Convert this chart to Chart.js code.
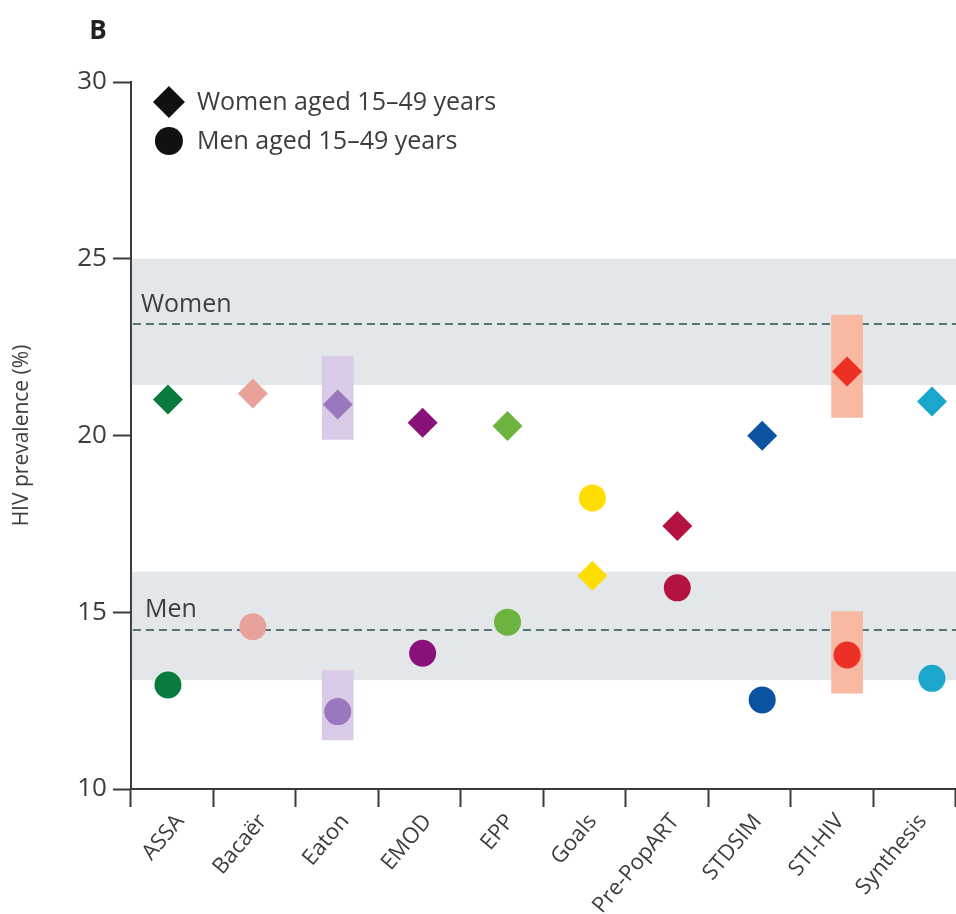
<!DOCTYPE html>
<html><head><meta charset="utf-8">
<script src="https://cdn.jsdelivr.net/npm/chart.js@4/dist/chart.umd.min.js"></script>
<style>html,body{margin:0;padding:0;background:#fff;overflow:hidden}canvas{display:block}</style>
</head><body>
<canvas id="c" width="956" height="914"></canvas>
<script>
// ---- data ----
const categories = ['ASSA', 'Bacaër', 'Eaton', 'EMOD', 'EPP', 'Goals', 'Pre-PopART', 'STDSIM', 'STI-HIV', 'Synthesis'];
const modelColors = ['#0b7a3e', '#e9a29b', '#9a78bd', '#8a1179', '#6db33f', '#ffdd00', '#b41240', '#0b53a2', '#ec3025', '#1ba6cb'];
const rangeColors = [null, null, '#d9cbe7', null, null, null, null, null, '#f8b8a1', null];
const womenValues = [21.02, 21.19, 20.88, 20.36, 20.27, 16.03, 17.44, 19.99, 21.81, 20.96];
const menValues   = [12.94, 14.59, 12.19, 13.84, 14.72, 18.23, 15.69, 12.52, 13.79, 13.13];
const womenLow  = [null, null, 19.89, null, null, null, null, null, 20.51, null];
const womenHigh = [null, null, 22.23, null, null, null, null, null, 23.41, null];
const menLow    = [null, null, 11.39, null, null, null, null, null, 12.71, null];
const menHigh   = [null, null, 13.35, null, null, null, null, null, 15.02, null];
const yTicks = [10, 15, 20, 25, 30];
const womenBand = [21.43, 25.0];
const womenObserved = 23.15;
const menBand = [13.08, 16.15];
const menObserved = 14.5;
const legendLabels = ['Women aged 15–49 years', 'Men aged 15–49 years'];

// ---- chart ----
const FONT = '"Open Sans", "DejaVu Sans", sans-serif';
Chart.defaults.font.family = FONT;
const AXIS = '#3a3a3a';
const TEXT = '#3d3d3d';

const pts = vals => vals.map((v, i) => ({x: i, y: v}));
const ranges = (lo, hi) => lo.map((l, i) => l == null ? null : ({x: i, y: [l, hi[i]]})).filter(d => d);
const rangeCols = lo => lo.map((l, i) => l == null ? null : rangeColors[i]).filter(c => c);

const decor = {
  id: 'decor',
  beforeDatasetsDraw(chart) {
    const {ctx, chartArea: a, scales: {y}} = chart;
    ctx.save();
    ctx.fillStyle = '#e4e7ea';
    for (const b of [womenBand, menBand]) {
      const t = y.getPixelForValue(b[1]), bt = y.getPixelForValue(b[0]);
      ctx.fillRect(a.left + 1, t, a.right - a.left - 1, bt - t);
    }
    ctx.setLineDash([8, 5]);
    ctx.lineWidth = 2;
    ctx.strokeStyle = '#587379';
    for (const v of [womenObserved, menObserved]) {
      const p = Math.round(y.getPixelForValue(v));
      ctx.beginPath(); ctx.moveTo(a.left + 2, p); ctx.lineTo(a.right, p); ctx.stroke();
    }
    ctx.setLineDash([]);
    ctx.fillStyle = TEXT;
    ctx.font = '25px ' + FONT;
    ctx.textAlign = 'left';
    ctx.textBaseline = 'alphabetic';
    ctx.fillText('Women', a.left + 10, y.getPixelForValue(womenObserved) - 12);
    ctx.fillText('Men', a.left + 14, y.getPixelForValue(menObserved) - 13);
    ctx.restore();
  },
  afterDraw(chart) {
    const {ctx, chartArea: a} = chart;
    ctx.save();
    // panel letter
    ctx.fillStyle = '#222';
    ctx.font = 'bold 26px ' + FONT;
    ctx.textAlign = 'center';
    ctx.textBaseline = 'middle';
    ctx.fillText('B', 98, 32);
    // legend
    const mx = a.left + 38;
    const y1 = a.top + 20, y2 = a.top + 59;
    ctx.fillStyle = '#111';
    ctx.beginPath();
    ctx.moveTo(mx - 16, y1); ctx.lineTo(mx, y1 - 16); ctx.lineTo(mx + 16, y1); ctx.lineTo(mx, y1 + 16); ctx.closePath();
    ctx.fill();
    ctx.beginPath(); ctx.arc(mx, y2, 14, 0, Math.PI * 2); ctx.fill();
    ctx.fillStyle = TEXT;
    ctx.font = '25px ' + FONT;
    ctx.textAlign = 'left';
    ctx.fillText(legendLabels[0], a.left + 66, y1 + 1);
    ctx.fillText(legendLabels[1], a.left + 66, y2 + 1);
    ctx.restore();
  }
};

new Chart(document.getElementById('c'), {
  data: {
    labels: categories,
    datasets: [
      {type: 'scatter', label: legendLabels[0], data: pts(womenValues), xAxisID: 'xm', yAxisID: 'y',
       pointStyle: 'rectRot', pointRadius: 15, pointHoverRadius: 15, borderWidth: 0,
       backgroundColor: modelColors, pointBackgroundColor: modelColors, order: 0},
      {type: 'scatter', label: legendLabels[1], data: pts(menValues), xAxisID: 'xm', yAxisID: 'y',
       pointStyle: 'circle', pointRadius: 13.5, pointHoverRadius: 13.5, borderWidth: 0,
       backgroundColor: modelColors, pointBackgroundColor: modelColors, order: 0},
      {type: 'bar', label: 'Women range', data: ranges(womenLow, womenHigh), xAxisID: 'xm', yAxisID: 'y',
       backgroundColor: rangeCols(womenLow), barThickness: 31, borderWidth: 0, grouped: false, order: 1},
      {type: 'bar', label: 'Men range', data: ranges(menLow, menHigh), xAxisID: 'xm', yAxisID: 'y',
       backgroundColor: rangeCols(menLow), barThickness: 31, borderWidth: 0, grouped: false, order: 1}
    ]
  },
  options: {
    responsive: false,
    animation: false,
    events: [],
    layout: {autoPadding: false, padding: {left: 5, top: 82, right: 0, bottom: 0}},
    plugins: {legend: {display: false}, tooltip: {enabled: false}},
    scales: {
      x: {
        type: 'category', position: 'bottom', offset: true,
        afterFit: s => { s.paddingRight = 0; s.height = 125; },
        grid: {offset: true, drawOnChartArea: false, drawTicks: true, tickLength: 18, tickWidth: 2, tickColor: AXIS},
        border: {color: AXIS, width: 2},
        ticks: {font: {size: 22}, color: TEXT, minRotation: 50, maxRotation: 50, padding: 2, autoSkip: false, labelOffset: 8}
      },
      xm: {type: 'linear', display: false, offset: false, grid: {offset: false}, min: -0.436, max: 9.283},
      y: {
        type: 'linear', position: 'left', min: 10, max: 30,
        afterBuildTicks: s => { s.ticks = yTicks.map(v => ({value: v})); },
        grid: {drawOnChartArea: false, tickLength: 18, tickWidth: 2, tickColor: AXIS},
        border: {color: AXIS, width: 2},
        ticks: {font: {size: 26}, color: TEXT, padding: 6},
        title: {display: true, text: 'HIV prevalence (%)', font: {size: 21}, color: TEXT, padding: {top: 4, bottom: 37}}
      }
    }
  },
  plugins: [decor]
});
</script>
</body></html>
